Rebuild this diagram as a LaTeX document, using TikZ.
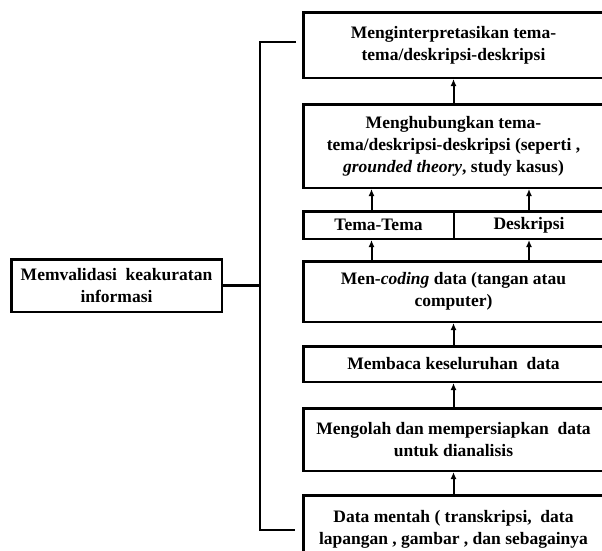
\documentclass[tikz,border=0pt]{standalone}
\usepackage{fontspec}
\setmainfont{Liberation Serif}
\usetikzlibrary{positioning,arrows.meta}

\begin{document}
\begin{tikzpicture}[x=1pt, y=1pt,
line width=2.5pt,
stepbox/.style={rectangle, draw, minimum width=300.5pt, align=center, inner sep=2pt},
halfbox/.style={rectangle, draw, minimum height=27.5pt, align=center, inner sep=2pt},
arr/.style={line width=2pt, -{Latex[length=7pt,width=6pt]}}]
\tikzstyle{every node}=[font=\fontsize{17.5}{22}\selectfont\bfseries]
\useasboundingbox (0,0) rectangle (602,-550);
\node[stepbox, minimum height=67.5pt] (data) at (453.5,-529) {Data mentah ( transkripsi,\ \ data\\lapangan , gambar , dan sebagainya};
\node[stepbox, minimum height=62.5pt] (olah) [above=22pt of data] {Mengolah dan mempersiapkan\ \ data\\untuk dianalisis};
\node[stepbox, minimum height=35.5pt] (baca) [above=24pt of olah] {Membaca keseluruhan\ \ data};
\node[stepbox, minimum height=60.5pt] (coding) [above=22pt of baca] {Men-\textit{coding} data (tangan atau\\computer)};
\node[halfbox, minimum width=150.5pt] (tema) [above right=20pt and 0pt of coding.north west] {Tema-Tema};
\node[halfbox, minimum width=150.5pt] (deskripsi) [right=-2.5pt of tema] {Deskripsi};
\coordinate (rowtop) at (tema.north -| coding.north);
\node[stepbox, minimum height=83.5pt] (hubung) [above=21pt of rowtop] {Menghubungkan tema-\\tema/deskripsi-deskripsi (seperti ,\\\textit{grounded theory}, study kasus)};
\node[stepbox, minimum height=65.5pt] (interp) [above=24pt of hubung] {Menginterpretasikan tema-\\tema/deskripsi-deskripsi};
\node[draw, minimum width=210.5pt, minimum height=52.5pt, align=center, inner sep=2pt] (validasi) at (116.5,-285.5) {Memvalidasi\ \ keakuratan\\informasi};
\coordinate (brtop) at (260,-42);
\coordinate (brbot) at (260,-530);
\coordinate (topend) at (296,-42);
\coordinate (botend) at (295,-530);
\draw[arr] (data) -- (olah);
\draw[arr] (olah) -- (baca);
\draw[arr] (baca) -- (coding);
\draw[arr] ([xshift=-7pt]tema.south |- coding.north) -- ([xshift=-7pt]tema.south);
\draw[arr] (deskripsi.south |- coding.north) -- (deskripsi.south);
\draw[arr] ([xshift=-7pt]tema.north) -- ([xshift=-7pt]tema.north |- hubung.south);
\draw[arr] (deskripsi.north) -- (deskripsi.north |- hubung.south);
\draw[arr] (hubung) -- (interp);
\draw (topend) -- (brtop) -- (brbot) -- (botend);
\draw (validasi) -- (validasi -| brtop);
\end{tikzpicture}
\end{document}
